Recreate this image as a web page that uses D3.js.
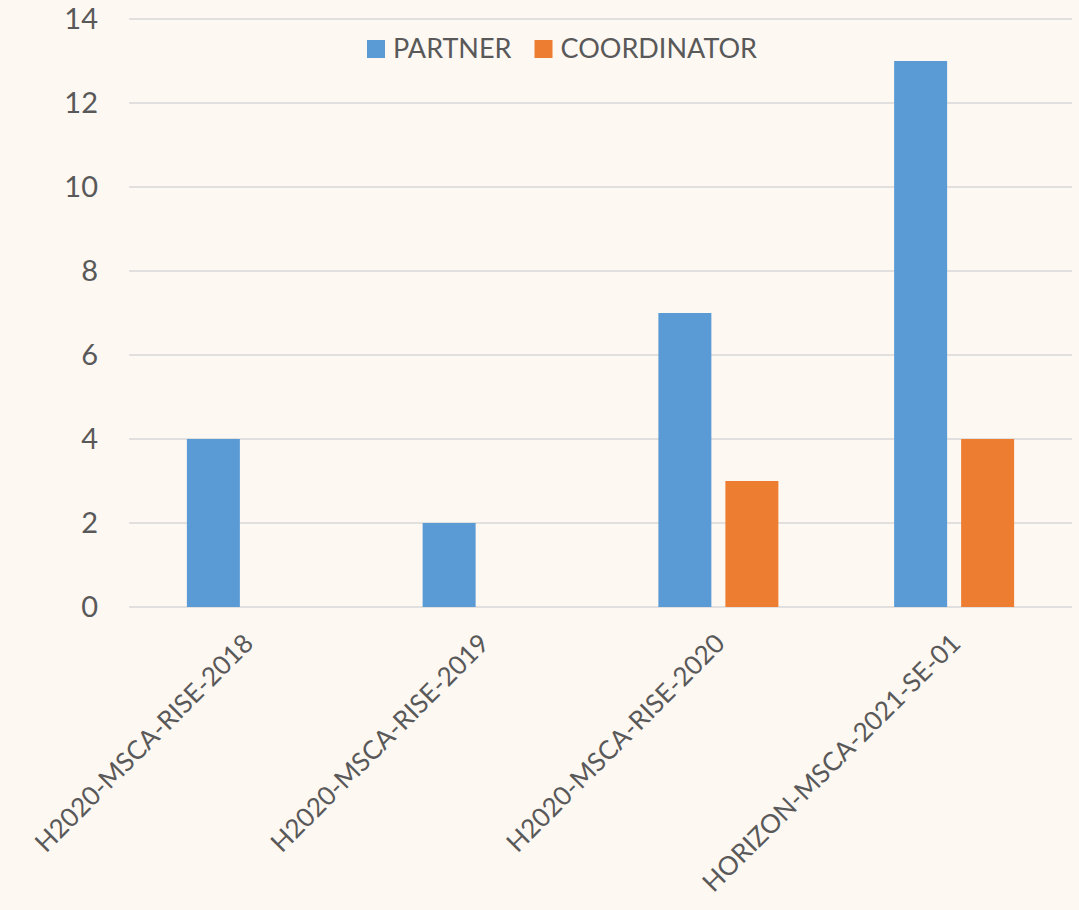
<!DOCTYPE html>
<head>
    <title>Partner / Coordinator bars</title>
    <script src="https://d3js.org/d3.v7.min.js"></script>
    <style>
      body { margin: 0; background: #fef8f3; }
      text { font-family: Lato, "Open Sans", sans-serif; fill: #595959; }
    </style>
</head>

<body>
    <svg width=1079 height=910></svg>
</body>

<script>
const calls = ["H2020-MSCA-RISE-2018", "H2020-MSCA-RISE-2019", "H2020-MSCA-RISE-2020", "HORIZON-MSCA-2021-SE-01"];
const seriesNames = ["PARTNER", "COORDINATOR"];
const partner = [4, 2, 7, 13];
const coordinator = [0, 0, 3, 4];
const yTicks = [0, 2, 4, 6, 8, 10, 12, 14];

const colors = ["#5b9bd5", "#ed7d31"];
const fontSize = 27;

const svg = d3.select("svg");
const margin = {left: 129, right: 7, top: 19, bottom: 303};
const width = 1079 - margin.left - margin.right;
const height = 910 - margin.top - margin.bottom;

const g = svg.append("g").attr("transform", `translate(${margin.left},${margin.top})`);

const y = d3.scaleLinear().domain([0, 14]).range([height, 0]);

const x0 = d3.scaleBand().domain(calls).range([0, width])
  .paddingInner(0.491).paddingOuter(0.2455);
const x1 = d3.scaleBand().domain(seriesNames).range([0, x0.bandwidth()])
  .paddingInner(0.209);

// gridlines
g.selectAll(".grid")
  .data(yTicks)
  .join("line")
  .attr("x1", 0).attr("x2", width)
  .attr("y1", d => y(d)).attr("y2", d => y(d))
  .attr("stroke", "#d9d9d9").attr("stroke-width", 1.5);

// y labels
g.selectAll(".ylab")
  .data(yTicks)
  .join("text")
  .attr("x", -31)
  .attr("y", d => y(d))
  .attr("dy", "0.35em")
  .attr("text-anchor", "end")
  .attr("font-size", fontSize + 2)
  .text(d => d);

// bars
const rows = calls.map((c, i) => ({call: c, values: [partner[i], coordinator[i]]}));

const groups = g.selectAll(".grp")
  .data(rows)
  .join("g")
  .attr("transform", d => `translate(${x0(d.call)},0)`);

groups.selectAll("rect")
  .data(d => d.values.map((v, i) => ({name: seriesNames[i], value: v, i: i})))
  .join("rect")
  .attr("x", d => x1(d.name))
  .attr("width", x1.bandwidth())
  .attr("y", d => y(d.value))
  .attr("height", d => y(0) - y(d.value))
  .attr("fill", d => colors[d.i]);

// x labels, rotated
g.selectAll(".xlab")
  .data(calls)
  .join("text")
  .attr("text-anchor", "end")
  .attr("font-size", fontSize - 1)
  .attr("transform", d => `translate(${x0(d) + x0.bandwidth() / 2 + 8},${height + 38}) rotate(-45)`)
  .text(d => d);

// legend
const legend = svg.append("g").attr("transform", "translate(367,40)");
let lx = 0;
seriesNames.forEach((name, i) => {
  legend.append("rect")
    .attr("x", lx).attr("y", 0)
    .attr("width", 18).attr("height", 18)
    .attr("fill", colors[i]);
  const t = legend.append("text")
    .attr("x", lx + 26).attr("y", 9)
    .attr("dy", "0.35em")
    .attr("font-size", fontSize)
    .text(name);
  lx += 26 + t.node().getComputedTextLength() + 23;
});
</script>
